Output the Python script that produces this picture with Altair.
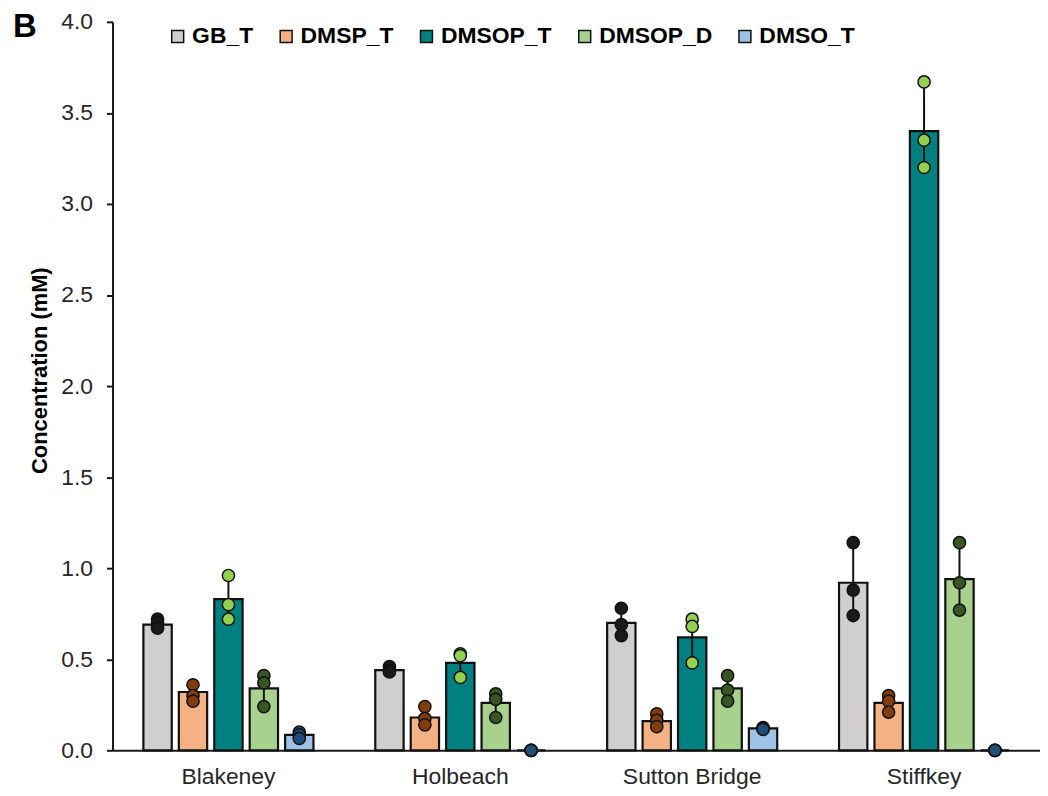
import altair as alt
import pandas as pd

sites = ["Blakeney", "Holbeach", "Sutton Bridge", "Stiffkey"]
series = ["GB_T", "DMSP_T", "DMSOP_T", "DMSOP_D", "DMSO_T"]

bar_colors = ["#d0cece", "#f4b183", "#008080", "#a9d18e", "#9dc3e6"]
point_colors = ["#1a1a1a", "#843c0c", "#92d050", "#375623", "#1f4e79"]

# bar heights (mean concentration, mM) per series, in site order
gb_t = [0.69, 0.44, 0.70, 0.92]
dmsp_t = [0.32, 0.18, 0.16, 0.26]
dmsop_t = [0.83, 0.48, 0.62, 3.40]
dmsop_d = [0.34, 0.26, 0.34, 0.94]
dmso_t = [0.085, 0.0, 0.12, 0.0]

# replicate points per series, per site
gb_t_pts = [[0.72, 0.70, 0.67], [0.46, 0.44, 0.43], [0.78, 0.69, 0.63], [1.14, 0.88, 0.74]]
dmsp_t_pts = [[0.36, 0.30, 0.27], [0.24, 0.175, 0.14], [0.20, 0.165, 0.13], [0.30, 0.27, 0.21]]
dmsop_t_pts = [[0.96, 0.80, 0.72], [0.53, 0.52, 0.40], [0.72, 0.68, 0.48], [3.67, 3.35, 3.20]]
dmsop_d_pts = [[0.41, 0.37, 0.24], [0.31, 0.28, 0.18], [0.41, 0.33, 0.27], [1.14, 0.92, 0.77]]
dmso_t_pts = [[0.10, 0.085, 0.065], [0.0, 0.0, 0.0], [0.125, 0.12, 0.115], [0.0, 0.0, 0.0]]

bar_vals = [gb_t, dmsp_t, dmsop_t, dmsop_d, dmso_t]
pt_vals = [gb_t_pts, dmsp_t_pts, dmsop_t_pts, dmsop_d_pts, dmso_t_pts]

bar_rows = []
pt_rows = []
for s, vals, pts in zip(series, bar_vals, pt_vals):
    for site, v, reps in zip(sites, vals, pts):
        bar_rows.append({"site": site, "series": s, "value": v})
        for r in reps:
            pt_rows.append({"site": site, "series": s, "value": r})
bars_df = pd.DataFrame(bar_rows)
pts_df = pd.DataFrame(pt_rows)

FONT = "Liberation Sans"

x_enc = alt.X(
    "site:N", sort=sites,
    scale=alt.Scale(paddingInner=0.236, paddingOuter=0.118),
    axis=alt.Axis(title=None, labelAngle=0, ticks=False, tickSize=0, labelPadding=15,
                  labelFontSize=23, labelFont=FONT, labelColor="#262626",
                  domainColor="#1a1a1a", domainWidth=2),
)
xoff_enc = alt.XOffset("series:N", sort=series,
                       scale=alt.Scale(paddingInner=0.2, paddingOuter=0.1))
y_scale = alt.Scale(domain=[0, 4], nice=False, zero=True)
y_axis = alt.Axis(
    title="Concentration (mM)", values=[0, 0.5, 1, 1.5, 2, 2.5, 3, 3.5, 4], format=".1f",
    grid=False, tickSize=6, tickWidth=2, tickColor="#1a1a1a", labelPadding=14,
    labelFontSize=23, labelFont=FONT, labelColor="#262626",
    domainColor="#1a1a1a", domainWidth=2,
    titleFont=FONT, titleFontSize=22, titleFontWeight="bold", titleColor="#000000",
    titleX=-73, titleY=350, titleAngle=270, titleAlign="center", titleBaseline="middle",
)

bars = alt.Chart(bars_df).mark_bar(stroke="#111111", strokeWidth=2.2).encode(
    x=x_enc,
    xOffset=xoff_enc,
    y=alt.Y("value:Q", scale=y_scale, axis=y_axis),
    color=alt.Color(
        "series:N", sort=series,
        scale=alt.Scale(domain=series, range=bar_colors),
        legend=alt.Legend(
            title=None, orient="none", legendX=54, legendY=3, direction="horizontal",
            columns=5, symbolType="square", symbolSize=144, symbolStrokeColor="#111111",
            symbolStrokeWidth=1.5, symbolOpacity=1, labelFont=FONT, labelFontSize=23,
            labelFontWeight="bold", labelColor="#000000", labelOffset=3, columnPadding=21,
        ),
    ),
)

err = alt.Chart(pts_df).transform_aggregate(
    m="mean(value)", sd="stdev(value)", groupby=["site", "series"]
).transform_calculate(
    lo="datum.m - datum.sd", hi="datum.m + datum.sd"
).mark_rule(color="#111111", strokeWidth=2).encode(
    x=x_enc, xOffset=xoff_enc,
    y=alt.Y("lo:Q", scale=y_scale, axis=y_axis), y2="hi:Q",
)

points = alt.Chart(pts_df).mark_circle(size=150, opacity=1, stroke="#111111", strokeWidth=1.5).encode(
    x=x_enc, xOffset=xoff_enc,
    y=alt.Y("value:Q", scale=y_scale, axis=y_axis),
    fill=alt.Fill("series:N", scale=alt.Scale(domain=series, range=point_colors), legend=None),
)

panel = alt.Chart(pd.DataFrame({"label": ["B"]})).mark_text(
    font=FONT, fontSize=33, fontWeight="bold", align="left", baseline="alphabetic", color="#000000"
).encode(x=alt.value(-100), y=alt.value(15), text="label:N")

chart = alt.layer(bars, err, points, panel).properties(
    width=932, height=732,
    autosize=alt.AutoSizeParams(type="none"),
    padding={"left": 105, "top": 12, "right": 0, "bottom": 40},
).configure_view(strokeWidth=0)

chart.save("out.html", embed_options={"renderer": "svg", "actions": False})
